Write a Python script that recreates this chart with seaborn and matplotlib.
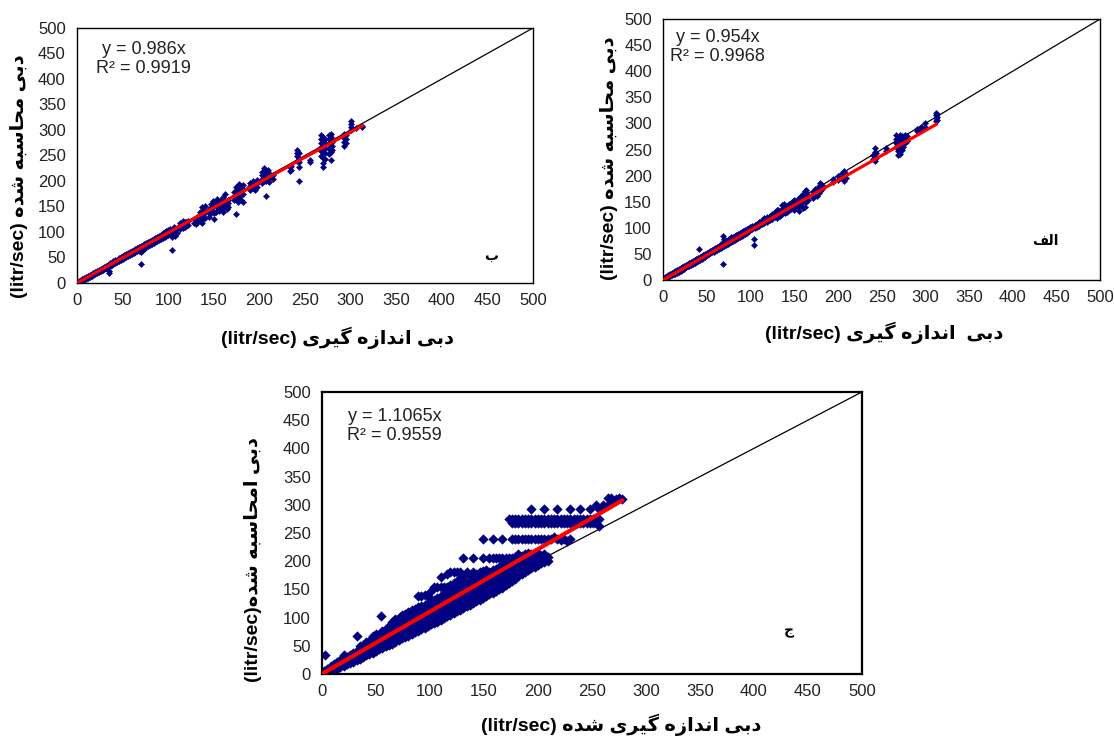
import matplotlib
matplotlib.use("Agg")
import matplotlib.pyplot as plt
import pandas as pd
import seaborn as sns
from matplotlib import font_manager
from matplotlib.ft2font import FT2Font

# ---------------- data ----------------
# panel "ب" : measured discharge (x) and the computed values at each x
b_x = [2, 4, 6, 8, 10, 12, 14, 16, 18, 20,
       22, 24, 26, 28, 30, 32, 34, 35, 36, 38,
       40, 42, 44, 46, 48, 50, 52, 54, 56, 58,
       60, 62, 64, 66, 68, 70, 72, 74, 76, 78,
       80, 82, 84, 86, 88, 90, 92, 94, 96, 98,
       100, 102, 104, 106, 108, 110, 113, 116, 118, 120,
       122, 128, 130, 132, 135, 137, 138, 140, 145, 147,
       149, 150, 152, 154, 156, 158, 160, 162, 164, 166,
       172, 174, 176, 178, 180, 182, 190, 193, 195, 197,
       203, 205, 207, 209, 211, 215, 233, 235, 241, 243,
       255, 268, 270, 272, 276, 278, 280, 293, 295, 300,
       306, 312]
b_y = [[1, 3], [3, 6], [4, 7], [6, 9], [8, 12], [10, 13], [12, 16], [14, 18], [16, 20], [17, 22],
       [19, 24], [21, 26], [23, 28], [25, 30], [27, 32], [29, 34], [30, 36], [20, 24, 36], [33, 39], [35, 40],
       [37, 43], [39, 45], [41, 46], [43, 49], [45, 50], [47, 53], [49, 54], [51, 57], [53, 58], [55, 61],
       [57, 63], [58, 65], [60, 67], [62, 69], [62, 70], [38, 60, 65, 72], [65, 73], [67, 76], [70, 78], [72, 80],
       [75, 83], [77, 85], [79, 87], [81, 88], [83, 91], [84, 93], [86, 95], [88, 98], [90, 99], [92, 102],
       [94, 104], [96, 106], [65, 90, 100], [94, 104, 110], [92, 100, 106], [98, 108], [106, 112, 118], [108, 116, 122], [110, 120], [112, 119],
       [114, 121], [118, 126], [115, 124], [120, 130], [122, 132, 140], [118, 130, 138, 148], [126, 134, 142], [128, 140, 150], [130, 138, 145], [138, 146, 155],
       [142, 150, 160], [125, 138, 152], [140, 150, 160], [148, 156, 165], [142, 150, 158], [146, 154, 162], [140, 148, 158, 168], [148, 160, 175], [145, 152, 160], [148, 156, 162],
       [162, 170, 178], [135, 170, 180, 188], [158, 168, 178, 190], [165, 180, 195], [162, 172, 182, 190], [158, 175, 185, 192], [183, 190, 196], [186, 194, 200], [182, 190, 196], [188, 196, 202],
       [196, 204, 212, 218], [200, 208, 216, 225], [170, 200, 210, 220], [204, 212, 222], [198, 207, 215], [204, 212], [220, 228], [222, 230], [240, 248, 255, 260], [200, 228, 238, 246, 255],
       [238, 242], [248, 258, 266, 274, 282, 290], [228, 236, 246, 256, 266, 276, 286], [244, 254, 264, 274, 282], [252, 262, 272, 282, 290], [242, 256, 266, 276, 286, 292], [260, 268, 276], [268, 276, 284, 292], [274, 282, 290], [300, 306, 312, 318],
       [303], [305, 308]]

# panel "الف"
a_x = [2, 4, 6, 8, 10, 12, 14, 16, 18, 20,
       22, 24, 26, 28, 30, 32, 34, 36, 38, 40,
       41, 42, 44, 46, 48, 50, 52, 54, 56, 58,
       60, 62, 64, 66, 68, 69, 70, 72, 74, 76,
       78, 80, 82, 84, 86, 88, 90, 92, 94, 96,
       98, 100, 102, 104, 105, 107, 110, 113, 116, 119,
       122, 125, 128, 130, 132, 134, 136, 138, 140, 142,
       144, 146, 148, 150, 152, 154, 156, 158, 160, 162,
       164, 166, 172, 174, 176, 178, 180, 182, 195, 200,
       205, 207, 209, 240, 242, 244, 255, 267, 269, 271,
       273, 275, 277, 279, 290, 295, 300, 312, 313]
a_y = [[2, 5], [3, 7], [5, 9], [7, 11], [9, 13], [11, 15], [12, 17], [14, 19], [16, 21], [18, 23],
       [20, 25], [22, 27], [24, 28], [26, 30], [27, 32], [29, 34], [31, 36], [33, 38], [35, 40], [37, 42],
       [60], [39, 44], [41, 46], [43, 48], [45, 50], [47, 52], [49, 54], [51, 56], [53, 58], [54, 60],
       [56, 62], [58, 64], [60, 66], [62, 68], [63, 70], [31, 84], [65, 72, 78], [67, 74], [69, 76], [71, 78],
       [73, 82], [75, 82], [77, 84], [79, 86], [81, 88], [83, 90], [85, 92], [87, 94], [89, 96], [91, 98],
       [93, 100], [95, 102], [97, 104], [68, 78, 101], [99, 106], [101, 108], [104, 112], [107, 115], [109, 118], [112, 121],
       [115, 123], [117, 126], [121, 131], [119, 127, 135], [125, 134], [123, 132], [127, 136, 143], [130, 138, 146], [128, 138], [131, 141],
       [135, 145], [137, 147], [140, 150], [135, 145, 153], [141, 151], [140, 148, 156], [133, 148, 158], [145, 153, 161], [138, 152, 164], [140, 158, 170],
       [150, 160, 172], [154, 163], [158, 168], [163, 175], [160, 172], [166, 180], [170, 178, 186], [174, 182], [187, 193], [191, 199],
       [195, 205], [190, 200, 208], [195, 203], [232, 240], [228, 238, 246, 252], [234, 244], [247, 252], [255, 262, 270, 277], [240, 248, 256, 264, 272], [242, 250, 260, 270, 278],
       [250, 258, 266, 275], [255, 264, 272], [262, 270, 277], [266, 276], [285, 290], [287, 293], [294, 300], [304, 310, 316, 320], [306, 312, 318]]

# panel "ج"
c_x = [2, 3, 5, 8, 11, 14, 17, 20, 23, 26,
       29, 32, 35, 38, 41, 44, 47, 50, 53, 55,
       56, 59, 62, 65, 68, 71, 74, 77, 80, 83,
       86, 89, 92, 95, 98, 101, 104, 107, 110, 113,
       116, 119, 122, 125, 128, 131, 134, 137, 140, 143,
       146, 149, 152, 155, 158, 161, 164, 167, 170, 173,
       176, 179, 182, 185, 188, 191, 194, 197, 200, 203,
       206, 209, 212, 215, 218, 221, 224, 227, 230, 233,
       236, 239, 242, 245, 248, 251, 254, 257, 260, 265,
       268, 272, 275, 278]
c_y = [[1, 5], [33], [2, 8], [4, 9, 14], [6, 12, 17], [9, 15, 21], [12, 18, 25], [14, 21, 28, 33], [17, 24, 31], [19, 26, 34],
       [22, 30, 38], [25, 33, 41, 68], [27, 35, 43, 50], [30, 38, 46, 52], [33, 41, 49, 57], [35, 43, 51, 59], [38, 46, 54, 62, 67], [41, 49, 57, 65, 71], [44, 52, 60, 68], [103],
       [46, 54, 62, 70, 77], [49, 57, 65, 73, 80], [52, 60, 68, 76, 85], [54, 62, 70, 78, 86, 92], [57, 65, 73, 81, 89, 97], [60, 68, 76, 84, 92, 100], [63, 71, 79, 87, 95, 104], [66, 74, 82, 90, 98, 106], [68, 76, 84, 92, 100, 110], [71, 79, 87, 95, 103, 113],
       [74, 82, 90, 98, 106, 116], [77, 85, 93, 101, 109, 118, 138], [79, 87, 95, 103, 111, 120, 138], [82, 90, 98, 106, 114, 123, 140], [85, 93, 101, 109, 117, 126, 138], [88, 96, 104, 112, 120, 130, 148], [90, 98, 106, 114, 122, 132, 155], [93, 101, 109, 117, 125, 135, 155], [96, 104, 112, 120, 128, 138, 155, 172], [99, 107, 115, 123, 131, 141, 155],
       [102, 110, 118, 126, 134, 144, 155, 178], [105, 113, 121, 129, 137, 147, 158, 180], [108, 116, 124, 132, 140, 150, 162, 180], [111, 119, 127, 135, 143, 153, 165, 180], [114, 122, 130, 138, 146, 156, 168, 180], [117, 125, 133, 141, 149, 159, 172, 205], [120, 128, 136, 144, 152, 162, 180], [123, 131, 139, 147, 155, 165, 176], [126, 134, 142, 150, 158, 168, 180, 205], [129, 137, 145, 153, 161, 170, 178],
       [132, 140, 148, 156, 164, 172, 180], [135, 143, 151, 159, 167, 175, 182, 205, 240], [138, 146, 154, 162, 170, 178, 185], [141, 149, 157, 165, 173, 181, 205], [144, 152, 160, 168, 176, 184, 205, 240], [147, 155, 163, 171, 179, 187, 205], [150, 158, 166, 174, 182, 190, 205], [153, 161, 169, 177, 185, 193, 205, 240], [157, 165, 173, 181, 189, 197, 205], [161, 169, 177, 185, 193, 201, 206, 275],
       [165, 173, 181, 189, 197, 205, 240, 268, 275], [169, 177, 185, 193, 201, 208, 240, 268, 275], [173, 181, 189, 197, 205, 212, 240, 268, 275], [177, 185, 193, 201, 209, 240, 268, 275], [181, 189, 197, 205, 212, 240, 268, 275], [185, 193, 201, 208, 215, 240, 268, 275], [188, 196, 204, 212, 240, 268, 275, 293], [190, 198, 206, 214, 240, 268, 275], [193, 200, 207, 215, 240, 268, 275], [196, 203, 210, 240, 268, 275],
       [198, 205, 212, 240, 268, 275, 293], [200, 207, 240, 268, 275], [240, 268, 275], [242, 268, 275], [240, 268, 275, 293], [238, 268, 275], [240, 268, 275], [236, 268, 275], [240, 268, 275, 293], [268, 275],
       [268, 275], [268, 275, 293], [268, 275], [268, 275], [268, 275, 293], [268, 275], [268, 300], [262, 275, 293], [300], [300, 312],
       [305, 312], [310], [312], [310]]

# trend lines (end points) and 1:1 line
fit_b_x, fit_b_y = [0, 313], [0, 308.6]
fit_a_x, fit_a_y = [0, 313], [0, 298.6]
fit_c_x, fit_c_y = [0, 278], [0, 307.6]
one_x, one_y = [0, 500], [0, 500]

eq_b = "y = 0.986x\nR² = 0.9919"
eq_a = "y = 0.954x\nR² = 0.9968"
eq_c = "y = 1.1065x\nR² = 0.9559"
ticks = [0, 50, 100, 150, 200, 250, 300, 350, 400, 450, 500]

# ---------------- Persian text shaping (matplotlib does no Arabic shaping) ----------------
FORMS = {  # isolated, final, initial, medial
    "ا": ("\uFE8D", "\uFE8E", None, None),
    "ب": ("\uFE8F", "\uFE90", "\uFE91", "\uFE92"),
    "ج": ("\uFE9D", "\uFE9E", "\uFE9F", "\uFEA0"),
    "ح": ("\uFEA1", "\uFEA2", "\uFEA3", "\uFEA4"),
    "د": ("\uFEA9", "\uFEAA", None, None),
    "ر": ("\uFEAD", "\uFEAE", None, None),
    "ز": ("\uFEAF", "\uFEB0", None, None),
    "س": ("\uFEB1", "\uFEB2", "\uFEB3", "\uFEB4"),
    "ش": ("\uFEB5", "\uFEB6", "\uFEB7", "\uFEB8"),
    "ف": ("\uFED1", "\uFED2", "\uFED3", "\uFED4"),
    "ل": ("\uFEDD", "\uFEDE", "\uFEDF", "\uFEE0"),
    "م": ("\uFEE1", "\uFEE2", "\uFEE3", "\uFEE4"),
    "ن": ("\uFEE5", "\uFEE6", "\uFEE7", "\uFEE8"),
    "ه": ("\uFEE9", "\uFEEA", "\uFEEB", "\uFEEC"),
    "ی": ("\uFBFC", "\uFBFD", "\uFBFE", "\uFBFF"),
    "گ": ("\uFB92", "\uFB93", "\uFB94", "\uFB95"),
}
_have = set(FT2Font(font_manager.findfont(
    font_manager.FontProperties(family="DejaVu Sans", weight="bold"))).get_charmap())
if 0xFBFC not in _have:
    FORMS["ی"] = ("\uFEEF", "\uFEF0", "\uFEF3", "\uFEF4")
if 0xFB92 not in _have:
    FORMS["گ"] = ("\uFED9", "\uFEDA", "\uFEDB", "\uFEDC")


def shape(text):
    out = []
    for i, ch in enumerate(text):
        f = FORMS.get(ch)
        if f is None:
            out.append(ch)
            continue
        prev = text[i - 1] if i > 0 else ""
        nxt = text[i + 1] if i + 1 < len(text) else ""
        jp = prev in FORMS and FORMS[prev][2] is not None
        jn = nxt in FORMS and f[2] is not None
        out.append(f[3] if jp and jn else f[1] if jp else f[2] if jn else f[0])
    return "".join(out)[::-1]


def frame(xs, ys):
    rows = [(x, y) for x, col in zip(xs, ys) for y in col]
    return pd.DataFrame(rows, columns=["measured", "computed"])


# ---------------- figure ----------------
sns.set_style("white")
plt.rcParams["font.family"] = ["Liberation Sans", "DejaVu Sans"]

fig = plt.figure(figsize=(11.14, 7.4), dpi=100, facecolor="white")

panels = [
    # axes rect, data, fit, eq, eq pos, tag, tag pos, xlabel, ylabel, x/y label coords, marker size, fit lw, spine lw
    ([0.0691, 0.6176, 0.4094, 0.3446], frame(b_x, b_y), (fit_b_x, fit_b_y), eq_b, (0.146, 0.88),
     "ب", (0.908, 0.107),
     "(litr/sec) " + shape("دبی اندازه گیری"), "(litr/sec) " + shape("دبی محاسبه شده"),
     (0.572, -0.17), (-0.107, 0.42), 10, 2.3, 1.0),
    ([0.5952, 0.6216, 0.3923, 0.3527], frame(a_x, a_y), (fit_a_x, fit_a_y), eq_a, (0.125, 0.891),
     "الف", (0.874, 0.151),
     "(litr/sec) " + shape("دبی  اندازه گیری"), "(litr/sec) " + shape("دبی محاسبه شده"),
     (0.506, -0.16), (-0.103, 0.467), 10, 2.3, 1.0),
    ([0.289, 0.0892, 0.4847, 0.3811], frame(c_x, c_y), (fit_c_x, fit_c_y), eq_c, (0.135, 0.878),
     "ج", (0.864, 0.151),
     "(litr/sec) " + shape("دبی اندازه گیری شده"), "(litr/sec)" + shape("دبی امحاسبه شده"),
     (0.555, -0.14), (-0.111, 0.404), 24, 3.0, 1.6),
]

for (rect, df, fit, eq, eq_pos, tag, tag_pos, xl, yl, xl_pos, yl_pos, ms, flw, slw) in panels:
    ax = fig.add_axes(rect)
    sns.lineplot(x=one_x, y=one_y, ax=ax, color="black", linewidth=0.9, zorder=1)
    sns.scatterplot(data=df, x="measured", y="computed", ax=ax, marker="D", s=ms,
                    color="#000080", edgecolor="#000080", linewidth=0.3, zorder=2)
    sns.lineplot(x=fit[0], y=fit[1], ax=ax, color="#FF0000", linewidth=flw, zorder=3)

    ax.set_xlim(0, 500)
    ax.set_ylim(0, 500)
    ax.set_xticks(ticks)
    ax.set_yticks(ticks)
    ax.tick_params(axis="both", direction="in", length=4, width=0.8, colors="black",
                   labelsize=12, labelcolor="#222222")
    ax.tick_params(axis="x", pad=7)
    ax.tick_params(axis="y", pad=8)
    for sp in ax.spines.values():
        sp.set_visible(True)
        sp.set_color("black")
        sp.set_linewidth(slw)

    ax.text(eq_pos[0], eq_pos[1], eq, transform=ax.transAxes, ha="center", va="center",
            multialignment="center", fontsize=13, color="#222222", linespacing=1.15)
    ax.text(tag_pos[0], tag_pos[1], shape(tag), transform=ax.transAxes, ha="center",
            va="center", fontsize=10, fontweight="bold", color="black")

    ax.set_xlabel(xl, fontsize=14, fontweight="bold", color="black")
    ax.set_ylabel(yl, fontsize=14, fontweight="bold", color="black")
    ax.xaxis.set_label_coords(*xl_pos)
    ax.yaxis.set_label_coords(*yl_pos)

fig.savefig("out.png", dpi=100, facecolor="white")
